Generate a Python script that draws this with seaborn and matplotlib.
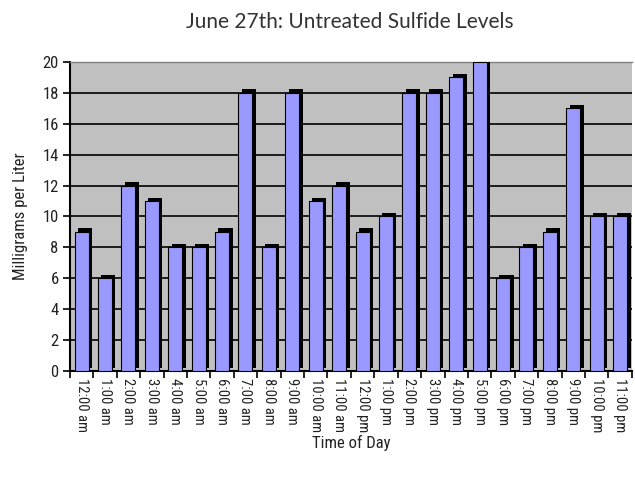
import matplotlib
matplotlib.use("Agg")
import matplotlib.pyplot as plt
import matplotlib.patheffects as pe
from matplotlib import font_manager
import seaborn as sns
import pandas as pd

times = ["12:00 am", "1:00 am", "2:00 am", "3:00 am", "4:00 am", "5:00 am",
         "6:00 am", "7:00 am", "8:00 am", "9:00 am", "10:00 am", "11:00 am",
         "12:00 pm", "1:00 pm", "2:00 pm", "3:00 pm", "4:00 pm", "5:00 pm",
         "6:00 pm", "7:00 pm", "8:00 pm", "9:00 pm", "10:00 pm", "11:00 pm"]
levels = [9, 6, 12, 11, 8, 8, 9, 18, 8, 18, 11, 12,
          9, 10, 18, 18, 19, 20, 6, 8, 9, 17, 10, 10]
y_ticks = [0, 2, 4, 6, 8, 10, 12, 14, 16, 18, 20]

df = pd.DataFrame({"Time": times, "Level": levels})

sns.set_theme(style="white")

installed = {f.name for f in font_manager.fontManager.ttflist}
narrow_choice = None
for cand in ["Liberation Sans Narrow", "DejaVu Sans Condensed", "Roboto Condensed",
             "Open Sans Condensed", "Noto Sans Condensed"]:
    if cand in installed:
        narrow_choice = cand
        break
if narrow_choice is None:
    narrow_choice = "Roboto"
narrow = [narrow_choice, "DejaVu Sans"]
plt.rcParams["font.family"] = narrow

fig = plt.figure(figsize=(6.35, 4.87), dpi=100)
ax = fig.add_axes([0.110, 0.238, 0.885, 0.635])
ax.set_facecolor("#C0C0C0")

sns.barplot(data=df, x="Time", y="Level", color="#9999FF", width=0.6,
            ax=ax, zorder=3, saturation=1, edgecolor="black", linewidth=0.8)
for p in ax.patches:
    p.set_path_effects([pe.SimplePatchShadow(offset=(2.5, 2.5), shadow_rgbFace="black",
                                             alpha=1.0), pe.Normal()])

ax.set_ylim(0, 20)
ax.set_xlim(-0.5, len(times) - 0.5)
ax.set_yticks(y_ticks)
ax.yaxis.grid(True, color="black", linewidth=1.2, zorder=1)
ax.set_axisbelow(True)

ax.set_xticks(range(len(times)))
ax.set_xticklabels(times, rotation=-90, fontsize=10.5, family=narrow, color="#222222")
ax.tick_params(axis="x", which="major", length=0, pad=5)
ax.set_xticks([i - 0.5 for i in range(len(times) + 1)], minor=True)
ax.tick_params(axis="x", which="minor", length=5, width=1.2, color="black",
               direction="out", bottom=True)
ax.tick_params(axis="y", length=5, width=1.2, color="black", direction="out",
               left=True, labelsize=12, pad=3, labelcolor="#222222")
for lab in ax.get_yticklabels():
    lab.set_family(narrow)

ax.spines["top"].set_visible(True)
ax.spines["top"].set_color("#808080")
ax.spines["top"].set_linewidth(1.0)
ax.spines["right"].set_visible(False)
ax.spines["left"].set_color("black")
ax.spines["left"].set_linewidth(1.5)
ax.spines["bottom"].set_color("black")
ax.spines["bottom"].set_linewidth(1.5)

ax.set_xlabel("Time of Day", fontsize=12, family=narrow, color="#222222")
ax.xaxis.set_label_coords(0.5, -0.205)
ax.set_ylabel("Milligrams per Liter", fontsize=12, family=narrow, labelpad=10, color="#222222")
fig.text(0.551, 0.955, "June 27th: Untreated Sulfide Levels", ha="center",
         va="center", fontsize=15, family=["Lato", "DejaVu Sans"], color="#333333")

fig.savefig("out.png", dpi=100)
